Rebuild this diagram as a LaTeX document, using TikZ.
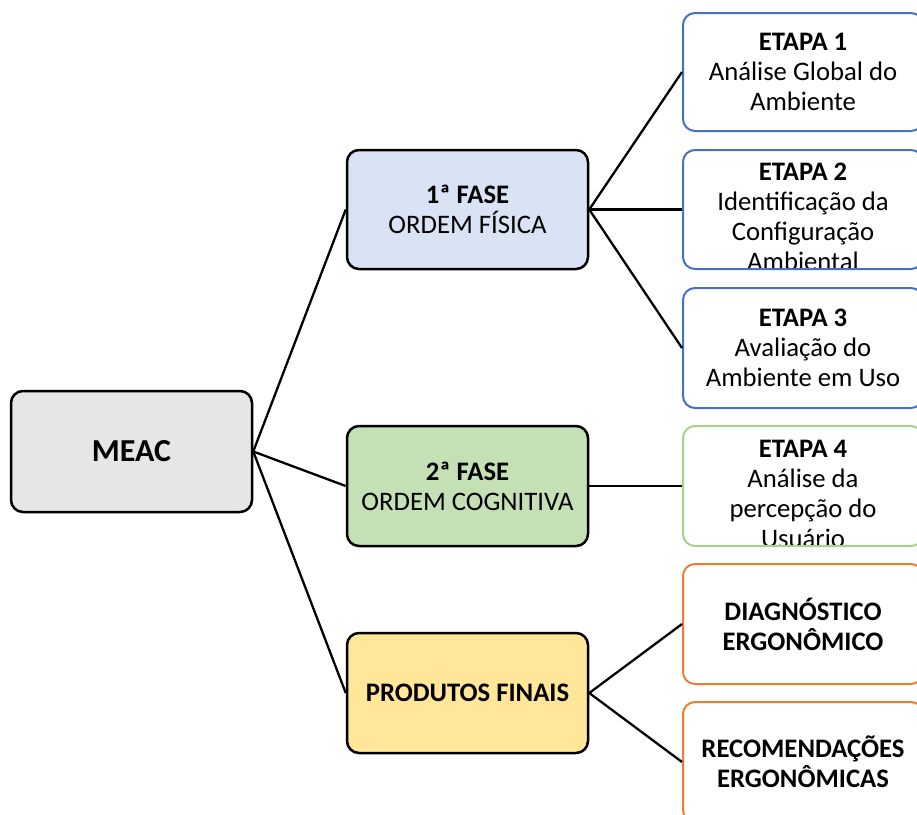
\documentclass[tikz,border=0pt]{standalone}
\usepackage{fontspec}
\setmainfont{Carlito}
\definecolor{meacfill}{HTML}{E7E6E6}
\definecolor{fisfill}{HTML}{DAE3F3}
\definecolor{cogfill}{HTML}{C5E0B4}
\definecolor{prodfill}{HTML}{FFE699}
\definecolor{etblue}{HTML}{4472C4}
\definecolor{etgreen}{HTML}{A9D18E}
\definecolor{etorange}{HTML}{ED7D31}
\begin{document}
\begin{tikzpicture}[x=1pt,y=-1pt,
  box/.style={rounded corners=12pt, minimum width=241pt, minimum height=120pt,
    inner sep=0pt, align=center, font=\fontsize{26.7}{30}\selectfont},
  mainbox/.style={box, draw=black, line width=2.5pt},
  leafbox/.style={box, fill=white, line width=2pt, minimum width=240pt},
  cliptext/.style={anchor=north, inner sep=0pt, align=center, font=\fontsize{26.7}{30}\selectfont},
  link/.style={line width=2.3pt}]
\useasboundingbox (0,0) rectangle (917,814);
\clip (0,0) rectangle (917,814);

% main boxes
\node[mainbox, fill=meacfill, minimum height=121pt, font=\fontsize{32}{38}\selectfont\bfseries] (meac) at (131.5,451.5) {MEAC};
\node[mainbox, fill=fisfill, minimum height=119pt] (f1) at (467.5,209.5) {\textbf{1ª FASE}\\ORDEM FÍSICA};
\node[mainbox, fill=cogfill] (f2) at (467.5,486) {\textbf{2ª FASE}\\ORDEM COGNITIVA};
\node[mainbox, fill=prodfill] (pf) at (467.5,693) {\textbf{PRODUTOS FINAIS}};

% leaf boxes
\node[leafbox, draw=etblue, minimum height=118pt] (e1) at (803,72) {\textbf{ETAPA 1}\\Análise Global do\\Ambiente};
\node[leafbox, draw=etblue, minimum height=119pt,
  path picture={\node[cliptext] at ([yshift=-6pt]path picture bounding box.north)
    {\textbf{ETAPA 2}\\Identificação da\\Configuração\\Ambiental};}] (e2) at (803,209.5) {};
\node[leafbox, draw=etblue] (e3) at (803,348) {\textbf{ETAPA 3}\\Avaliação do\\Ambiente em Uso};
\node[leafbox, draw=etgreen,
  path picture={\node[cliptext] at ([yshift=-7pt]path picture bounding box.north)
    {\textbf{ETAPA 4}\\Análise da\\percepção do\\Usuário};}] (e4) at (803,486) {};
\node[leafbox, draw=etorange] (d) at (803,624) {\textbf{DIAGNÓSTICO}\\\textbf{ERGONÔMICO}};
\node[leafbox, draw=etorange] (r) at (803,762) {\textbf{RECOMENDAÇÕES}\\\textbf{ERGONÔMICAS}};

% connectors
\draw[link] (meac.east) -- (f1.west);
\draw[link] (meac.east) -- (f2.west);
\draw[link] (meac.east) -- (pf.west);
\draw[link] (f1.east) -- (e1.west);
\draw[link] (f1.east) -- (e2.west);
\draw[link] (f1.east) -- (e3.west);
\draw[link] (f2.east) -- (e4.west);
\draw[link] (pf.east) -- (d.west);
\draw[link] (pf.east) -- (r.west);
\end{tikzpicture}
\end{document}
